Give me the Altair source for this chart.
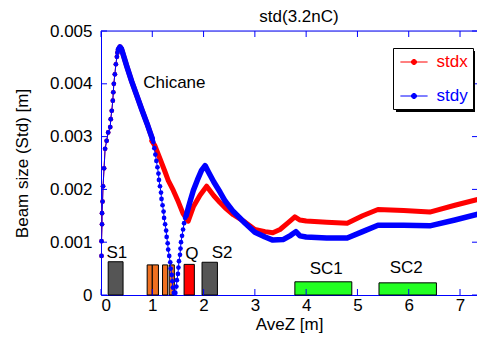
import altair as alt
import pandas as pd

FONT = "Liberation Sans"

# ---- beam size data (AveZ [m], std [m]) ----
# before the chicane stdx and stdy coincide
rise_x = [0.01, 0.01, 0.02, 0.02, 0.03, 0.04, 0.06, 0.08, 0.11, 0.14, 0.18, 0.19, 0.21, 0.23,
          0.24, 0.25, 0.27, 0.29, 0.31, 0.32, 0.34]
rise_y = [0.00074, 0.00102, 0.00134, 0.00155, 0.00177, 0.00206, 0.0024, 0.00277, 0.00292, 0.00308,
          0.00318, 0.00333, 0.00349, 0.00368, 0.00384, 0.0040, 0.00418, 0.00437, 0.00451, 0.00459,
          0.00465]
peak_x = [0.34, 0.37, 0.40, 0.45, 0.50, 0.60, 0.70, 0.80, 0.90, 0.95, 1.00]
peak_y = [0.00465, 0.0047, 0.00466, 0.0045, 0.00434, 0.00404, 0.00377, 0.0035, 0.00324, 0.0031, 0.00296]

# stdy in the chicane (sparse points)
vdown_x = [1.00, 1.02, 1.04, 1.06, 1.08, 1.10, 1.12, 1.13, 1.15, 1.17, 1.18, 1.20, 1.22, 1.23, 1.25,
           1.27, 1.28, 1.30, 1.31, 1.33, 1.35, 1.36, 1.38, 1.39, 1.40, 1.42]
vdown_y = [0.00296, 0.0029, 0.00278, 0.00266, 0.00254, 0.00242, 0.0023, 0.00218, 0.00206, 0.00194,
           0.00182, 0.0017, 0.00158, 0.00146, 0.00134, 0.00122, 0.0011, 0.00098, 0.00086, 0.00074,
           0.00062, 0.0005, 0.00038, 0.00026, 0.00014, 0.00004]
vup_x = [1.45, 1.47, 1.48, 1.50, 1.51, 1.52, 1.54, 1.55, 1.56, 1.58, 1.60, 1.62, 1.64, 1.66]
vup_y = [0.00004, 0.00016, 0.00028, 0.0004, 0.00052, 0.00064, 0.00076, 0.00088, 0.001, 0.00112,
         0.00124, 0.00136, 0.00146, 0.0015]
# stdy after the chicane
ya_x = [1.66, 1.73, 1.80, 1.88, 1.96, 2.03, 2.10, 2.20, 2.32, 2.42, 2.58, 2.81, 3.00, 3.20, 3.35,
        3.55, 3.70, 3.80, 3.88, 4.00, 4.40, 4.80, 5.10, 5.40, 5.90, 6.41, 6.90, 7.47]
ya_y = [0.0015, 0.00175, 0.00198, 0.00218, 0.00236, 0.00245, 0.00232, 0.00214, 0.00195, 0.00178,
        0.00158, 0.00136, 0.00119, 0.0011, 0.00104, 0.00105, 0.00113, 0.0012, 0.00112, 0.0011,
        0.00108, 0.00108, 0.0012, 0.00132, 0.00132, 0.00131, 0.00142, 0.00156]
# stdx after the chicane entrance
xa_x = [0.99, 1.05, 1.15, 1.25, 1.31, 1.41, 1.51, 1.60, 1.70, 1.80, 1.93, 2.06, 2.20, 2.32, 2.42,
        2.58, 2.81, 3.00, 3.20, 3.35, 3.49, 3.65, 3.78, 3.88, 4.00, 4.40, 4.80, 5.10, 5.40, 5.90,
        6.41, 6.90, 7.47]
xa_y = [0.00292, 0.00283, 0.00258, 0.00233, 0.00217, 0.00198, 0.00176, 0.00154, 0.0014, 0.00167,
        0.00189, 0.00206, 0.00188, 0.00175, 0.00165, 0.00152, 0.00138, 0.00124, 0.0012, 0.00118,
        0.00124, 0.00137, 0.00148, 0.00142, 0.0014, 0.00138, 0.00136, 0.0015, 0.00162, 0.0016,
        0.00157, 0.0017, 0.00184]

# ---- beamline elements ----
el_name = ["S1", "B1a", "B1b", "B2a", "B2b", "Q", "S2", "SC1", "SC2"]
el_kind = ["sol", "dip", "dip", "dip", "dip", "quad", "sol", "cav", "cav"]
el_start = [0.14, 0.90, 1.00, 1.20, 1.33, 1.62, 1.97, 3.78, 5.42]
el_end = [0.43, 1.00, 1.12, 1.30, 1.43, 1.82, 2.27, 4.89, 6.54]
el_top = [0.00063, 0.00057, 0.00057, 0.00057, 0.00057, 0.00058, 0.00062, 0.00025, 0.00023]

lab_text = ["S1", "Q", "S2", "SC1", "SC2", "Chicane"]
lab_x = [0.31, 1.77, 2.36, 4.39, 5.95, 1.43]
lab_y = [0.0007, 0.00068, 0.0007, 0.0004, 0.00042, 0.00392]

x_ticks = [0, 1, 2, 3, 4, 5, 6, 7]
y_ticks = [0, 0.001, 0.002, 0.003, 0.004, 0.005]

# the reference axes run past the right edge of the picture; keep the page from overflowing
W, H = 376, 264
XMAX = 7.331
RED, BLUE = "#ff0000", "#0000ff"

rows = []


def add(series, seg, kind, xs, ys):
    for x, y in zip(xs, ys):
        rows.append(dict(series=series, seg=series + seg, kind=kind, order=len(rows), z=x, s=y))


add("stdx", "rise", "sparse", rise_x, rise_y)
add("stdx", "peak", "dense", peak_x, peak_y)
add("stdx", "after", "dense", xa_x, xa_y)
add("stdy", "rise", "sparse", rise_x, rise_y)
add("stdy", "peak", "dense", peak_x, peak_y)
add("stdy", "vdown", "sparse", vdown_x, vdown_y)
add("stdy", "vup", "sparse", vup_x, vup_y)
add("stdy", "after", "dense", ya_x, ya_y)
df = pd.DataFrame(rows)

xs = alt.Scale(domain=[0, XMAX], nice=False, zero=False)
ys = alt.Scale(domain=[0, 0.005], nice=False)

LEG_X, LEG_Y, LEG_W, LEG_H = 292, 17, 79, 61
sym_path = "M-1.6,0L1.6,0M-0.3,0A0.3,0.3,0,1,0,0.3,0A0.3,0.3,0,1,0,-0.3,0Z"
col_expr = "datum.value == 'stdx' ? '#ff0000' : '#0000ff'"
legend = alt.Legend(
    title=None, orient="none", legendX=LEG_X, legendY=LEG_Y, padding=5,
    symbolType=sym_path, symbolSize=289, symbolStrokeWidth=1, symbolOffset=7,
    symbolStrokeColor={"expr": col_expr}, symbolFillColor={"expr": col_expr},
    labelColor={"expr": col_expr}, labelFont=FONT, labelFontSize=17, labelOffset=13.5,
    rowPadding=17, strokeColor="black", fillColor="white",
)
color = alt.Color("series:N", scale=alt.Scale(domain=["stdx", "stdy"], range=[RED, BLUE]), legend=legend)

xenc = alt.X("z:Q", scale=xs, title="AveZ [m]",
             axis=alt.Axis(values=x_ticks, format="d", ticks=False, tickSize=0, domain=True,
                           domainColor=BLUE, domainWidth=1, grid=False,
                           labelFont=FONT, labelFontSize=17, labelColor="black", labelPadding=2,
                           titleFont=FONT, titleFontSize=17, titleFontWeight="normal", titleColor="black",
                           titlePadding=3))
yenc = alt.Y("s:Q", scale=ys, title="Beam size (Std) [m]",
             axis=alt.Axis(values=y_ticks, ticks=False, tickSize=0, domain=True,
                           domainColor=BLUE, domainWidth=1, grid=False,
                           labelExpr="datum.value == 0 ? '0' : format(datum.value, '.3f')",
                           labelFont=FONT, labelFontSize=17, labelColor="black", labelPadding=9,
                           titleFont=FONT, titleFontSize=17, titleFontWeight="normal", titleColor="black",
                           titlePadding=18))

base = alt.Chart(df).encode(x=xenc, y=yenc, color=color, order="order:Q")


def series_layers(name):
    d = base.transform_filter(alt.datum.series == name)
    thin = d.mark_line(strokeWidth=1).encode(detail="series:N")
    thick = d.transform_filter(alt.datum.kind == "dense").mark_line(
        strokeWidth=5.5 if name == "stdy" else 5, strokeCap="round", strokeJoin="round"
    ).encode(detail="seg:N")
    pts = d.transform_filter(alt.datum.kind == "sparse").mark_circle(size=22, opacity=1)
    return [thin, thick, pts]


# elements
el_df = pd.DataFrame(dict(name=el_name, kind=el_kind, x0=el_start, x1=el_end, top=el_top))
el_df["bottom"] = 0.0
kind_colors = alt.Scale(domain=["sol", "dip", "quad", "cav"], range=["#555555", "#f07020", "#ff0000", "#22ff22"])
elements = alt.Chart(el_df).mark_rect(stroke="black", strokeWidth=1).encode(
    x=alt.X("x0:Q", scale=xs), x2="x1:Q",
    y=alt.Y("bottom:Q", scale=ys), y2="top:Q",
    fill=alt.Fill("kind:N", scale=kind_colors, legend=None),
)

lab_df = pd.DataFrame(dict(t=lab_text, x=lab_x, y=lab_y))
labels = alt.Chart(lab_df).mark_text(font=FONT, fontSize=17, color="black", baseline="alphabetic",
                                     align="center").encode(
    x=alt.X("x:Q", scale=xs), y=alt.Y("y:Q", scale=ys), text="t:N")

# inward ticks and the top frame line
xt_df = pd.DataFrame(dict(v=x_ticks))
yt_df = pd.DataFrame(dict(v=y_ticks))
tick_col = BLUE
t_bottom = alt.Chart(xt_df).mark_rule(color=tick_col).encode(
    x=alt.X("v:Q", scale=xs), y=alt.value(H), y2=alt.value(H - 6))
t_top = alt.Chart(xt_df).mark_rule(color=tick_col).encode(
    x=alt.X("v:Q", scale=xs), y=alt.value(0), y2=alt.value(6))
t_left = alt.Chart(yt_df).mark_rule(color=tick_col).encode(
    y=alt.Y("v:Q", scale=ys), x=alt.value(0), x2=alt.value(6))
t_right = alt.Chart(yt_df).mark_rule(color=tick_col).encode(
    y=alt.Y("v:Q", scale=ys), x=alt.value(W), x2=alt.value(W - 5))
top_line = alt.Chart(pd.DataFrame({"k": [0]})).mark_rule(color=BLUE, strokeWidth=1).encode(
    x=alt.value(0), x2=alt.value(W), y=alt.value(0))

# drop shadow behind the legend box
shadow = alt.Chart(pd.DataFrame({"k": [0]})).mark_rect(color="black").encode(
    x=alt.value(LEG_X + 3), x2=alt.value(LEG_X + LEG_W + 3),
    y=alt.value(LEG_Y + 3), y2=alt.value(LEG_Y + LEG_H + 3))

layers = ([elements] + series_layers("stdx") + series_layers("stdy")
          + [labels, t_bottom, t_top, t_left, t_right, top_line, shadow])

chart = alt.layer(*layers).properties(
    width=W, height=H,
    title=alt.TitleParams("std(3.2nC)", font=FONT, fontSize=17, fontWeight="normal", color="black",
                          offset=9, dx=10, dy=13),
    autosize=alt.AutoSizeParams(type="none"),
    padding={"left": 93, "top": 23, "right": 0, "bottom": 39},
).resolve_scale(color="shared").configure_view(stroke=None).configure(background="white")

chart.save("out.html", embed_options={"renderer": "svg", "actions": False})
